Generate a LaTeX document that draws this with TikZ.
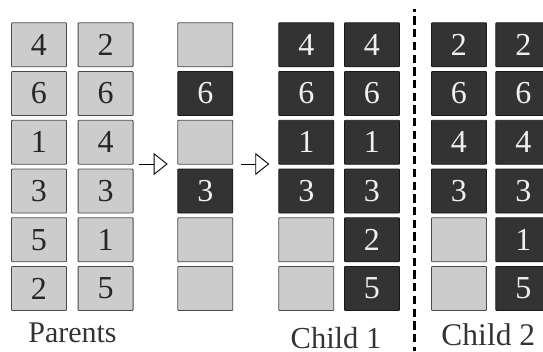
\documentclass[tikz,border=0pt]{standalone}
\usepackage{fontspec}
\setmainfont{Liberation Serif}
\usetikzlibrary{arrows.meta}
\definecolor{cellLight}{HTML}{CCCCCC}
\definecolor{cellEdge}{HTML}{4A4A4A}
\definecolor{cellDark}{HTML}{333333}
\definecolor{digitLight}{HTML}{F0F0F0}
\tikzset{
  cell/.style={draw=cellEdge, line width=0.9pt, minimum width=55pt, minimum height=44pt,
    inner sep=0pt, font=\fontsize{32}{32}\selectfont, rounded corners=0.8pt, anchor=north west},
  lite/.style={cell, fill=cellLight, text=black!85},
  dark/.style={cell, fill=cellDark, draw=black!90, text=digitLight},
  caption/.style={anchor=base, inner sep=0pt, text=black!80},
  flow/.style={line width=0.9pt, -{Triangle[open, length=14pt, width=22pt, line width=0.9pt]}},
  divider/.style={line width=2.6pt, dash pattern=on 8.3pt off 4.4pt, dash phase=5pt},
}
\begin{document}
\begin{tikzpicture}[x=1pt, y=-1pt]
  \useasboundingbox (0,0) rectangle (543,351);
  \clip (0,0) rectangle (543,351);

  % columns of gene cells: name / left edge / cells from top to bottom
  \foreach \col/\x/\cells in {
      pa/11/{lite/4,lite/6,lite/1,lite/3,lite/5,lite/2},
      pb/77.7/{lite/2,lite/6,lite/4,lite/3,lite/1,lite/5},
      mk/177.3/{lite/{},dark/6,lite/{},dark/3,lite/{},lite/{}},
      ca/278.3/{dark/4,dark/6,dark/1,dark/3,lite/{},lite/{}},
      cb/344/{dark/4,dark/6,dark/1,dark/3,dark/2,dark/5},
      da/431/{dark/2,dark/6,dark/4,dark/3,lite/{},lite/{}},
      db/495.3/{dark/2,dark/6,dark/4,dark/3,dark/1,dark/5}}{
    \foreach \sty/\txt [count=\r from 0] in \cells {
      \node[\sty] (\col\r) at (\x,{22.3+48.75*\r}) {\txt};
    }
  }

  % flow arrows
  \coordinate (a1s) at (139.3,164);
  \coordinate (a1e) at (167.7,164);
  \coordinate (a2s) at (240.7,164);
  \coordinate (a2e) at (269.3,164);
  \draw[flow] (a1s) -- (a1e);
  \draw[flow] (a2s) -- (a2e);

  % separator between the two children
  \coordinate (sepTop) at (414.7,8.7);
  \coordinate (sepBot) at (414.7,351);
  \draw[divider] (sepTop) -- (sepBot);

  % captions
  \node[caption, font=\fontsize{30}{30}\selectfont] (capP) at (72.5,342) {Parents};
  \node[caption, font=\fontsize{30.5}{30.5}\selectfont] (capC1) at (336,348) {Child 1};
  \node[caption, font=\fontsize{31.5}{31.5}\selectfont] (capC2) at (488.3,345) {Child 2};
\end{tikzpicture}
\end{document}
